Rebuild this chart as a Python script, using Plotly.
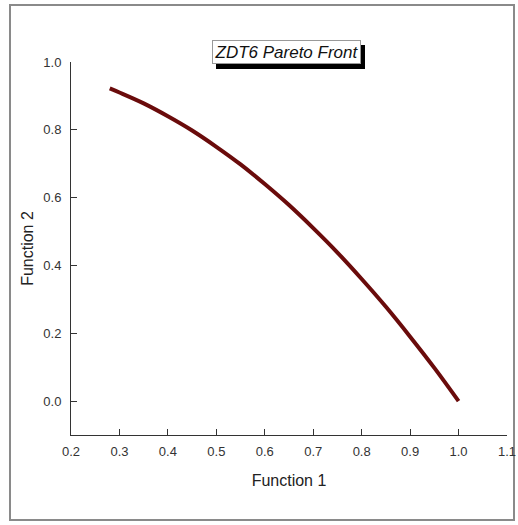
import plotly.graph_objects as go

# Data
function1 = [0.28, 0.30, 0.35, 0.40, 0.45, 0.50, 0.55, 0.60, 0.65, 0.70, 0.75, 0.80, 0.85, 0.90, 0.95, 1.00]
function2 = [0.922, 0.910, 0.878, 0.840, 0.798, 0.750, 0.698, 0.640, 0.578, 0.510, 0.438, 0.360, 0.278, 0.190, 0.098, 0.000]

x_ticks = [0.2, 0.3, 0.4, 0.5, 0.6, 0.7, 0.8, 0.9, 1.0, 1.1]
x_tick_labels = ["0.2", "0.3", "0.4", "0.5", "0.6", "0.7", "0.8", "0.9", "1.0", "1.1"]
y_ticks = [0.0, 0.2, 0.4, 0.6, 0.8, 1.0]
y_tick_labels = ["0.0", "0.2", "0.4", "0.6", "0.8", "1.0"]

chart_title = "ZDT6 Pareto Front"
x_title = "Function 1"
y_title = "Function 2"

W, H = 518, 525
L, R, T, B = 71, 11, 62, 90
pw, ph = W - L - R, H - T - B

def px_x(px):
    return (px - L) / pw

def px_y(py):
    return (H - B - py) / ph

FONT = "Liberation Sans, Arial, sans-serif"
AXC = "#333333"

fig = go.Figure()
fig.add_trace(go.Scatter(
    x=function1, y=function2, mode="lines",
    line=dict(color="#6a0b0b", width=4, shape="spline", smoothing=1.0),
    hoverinfo="skip", showlegend=False,
))

axis_common = dict(
    showgrid=False, zeroline=False, showline=True, linecolor=AXC, linewidth=1,
    ticks="inside", ticklen=6, tickcolor=AXC, tickwidth=1,
    tickfont=dict(family=FONT, size=13, color=AXC),
    fixedrange=True,
)

fig.update_xaxes(range=[0.2, 1.1], tickvals=x_ticks, ticktext=x_tick_labels,
                 title=dict(text=x_title, font=dict(family=FONT, size=16, color="#222"), standoff=17),
                 ticklabelstandoff=4, **axis_common)
fig.update_yaxes(range=[-0.1, 1.0], tickvals=y_ticks, ticktext=y_tick_labels,
                 title=dict(text=y_title, font=dict(family=FONT, size=16, color="#222"), standoff=5),
                 ticklabelstandoff=6, **axis_common)

# outer border
fig.add_shape(type="rect", xref="paper", yref="paper",
              x0=px_x(10), x1=px_x(514), y0=px_y(520), y1=px_y(5),
              line=dict(color="#8a8a8a", width=2), fillcolor="rgba(0,0,0,0)", layer="below")

# title drop shadow
fig.add_shape(type="rect", xref="paper", yref="paper",
              x0=px_x(216), x1=px_x(365), y0=px_y(69), y1=px_y(45),
              line=dict(width=0), fillcolor="black", layer="above")

# title box
fig.add_annotation(xref="paper", yref="paper", x=px_x(286.5), y=px_y(51.5),
                   xanchor="center", yanchor="middle",
                   text="<i>" + chart_title + "</i>", showarrow=False,
                   width=145, height=20,
                   font=dict(family=FONT, size=17, color="#111"),
                   bgcolor="white", bordercolor="#999999", borderwidth=1, borderpad=1)

fig.update_layout(
    width=W, height=H,
    margin=dict(l=L, r=R, t=T, b=B, autoexpand=False),
    paper_bgcolor="white", plot_bgcolor="white",
    showlegend=False,
)

fig.write_html("out.html", config={"displayModeBar": False})
